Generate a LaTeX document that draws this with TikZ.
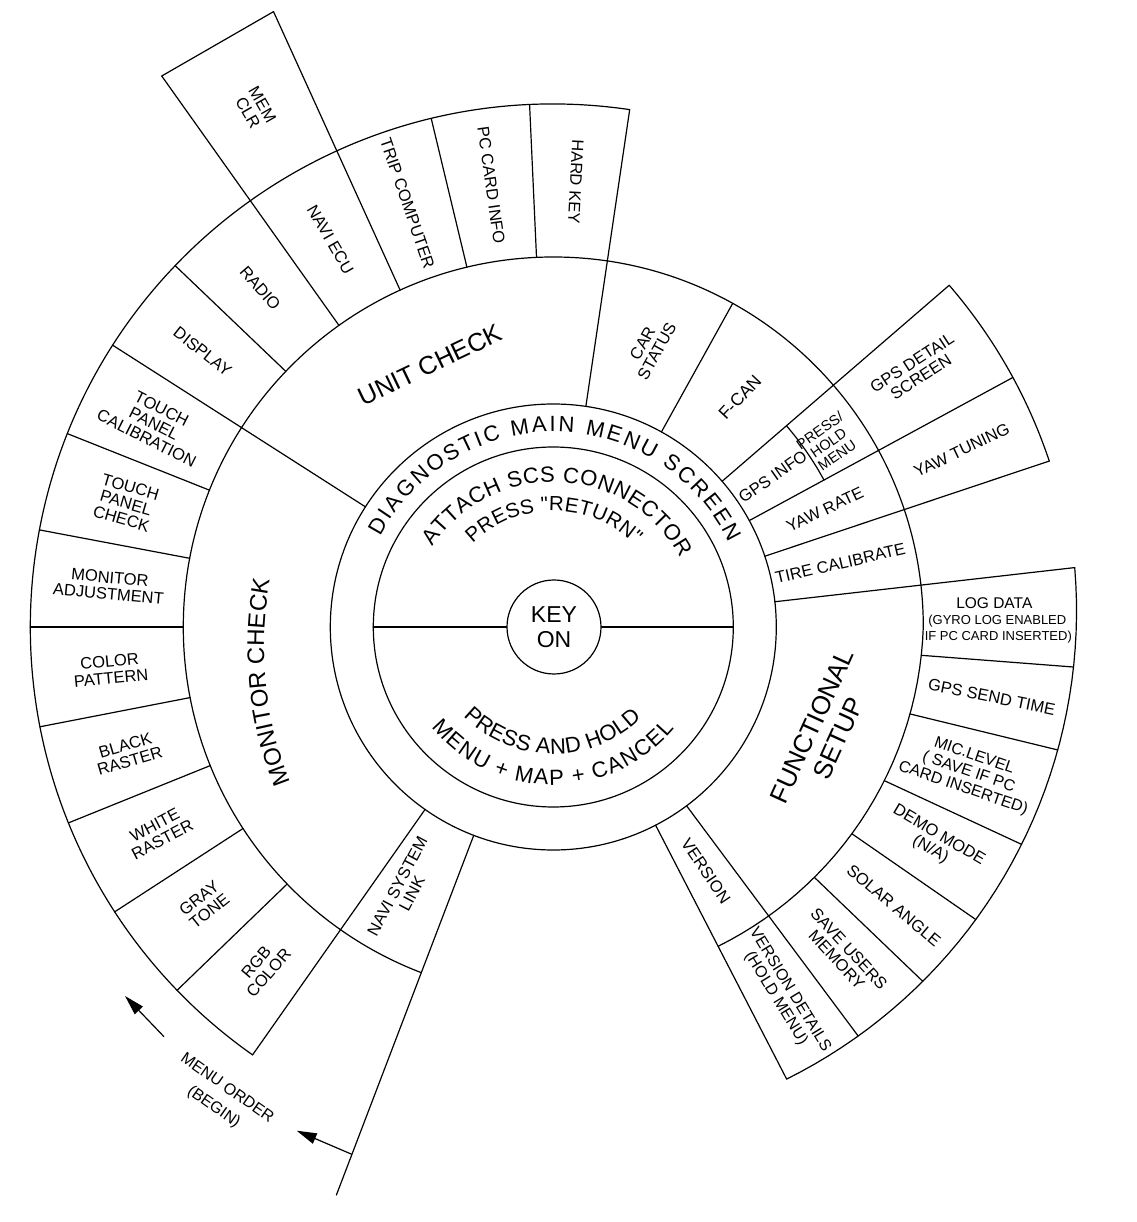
\documentclass[tikz,border=0pt]{standalone}
\usepackage{fontspec}
\setmainfont{Liberation Sans}[Ligatures=TeXOff]
\usetikzlibrary{decorations.text,arrows.meta,calc}
\newcommand{\mydiagfont}{\fontsize{22}{22}\selectfont}
\newcommand{\myretfont}{\fontsize{20.5}{20.5}\selectfont}
\newcommand{\mybigfont}{\fontsize{24}{24}\selectfont}
\begin{document}
\begin{tikzpicture}[x=1pt,y=1pt,
  ln/.style={line width=1.2pt, line cap=round, line join=round},
  lbl/.style={font=\fontsize{16.5}{16.5}\selectfont, align=center, inner sep=0pt},
  lblsm/.style={font=\fontsize{14.5}{15}\selectfont, align=center, inner sep=0pt},
  big/.style={font=\fontsize{26}{29}\selectfont, align=center, inner sep=0pt},
  arr/.style={line width=1.2pt, -{Triangle[length=20pt,width=11pt]}},
  curved/.style={decorate, decoration={text along path, text align={fit to path}, text={#1}}}
]
\useasboundingbox (-553.3,-595) rectangle (582.7,627);

% ---- centre
\node[circle, draw, line width=1.2pt, minimum size=94pt, inner sep=0pt,
      font=\fontsize{23}{25}\selectfont, align=center] (keyon) at (0.7,0) {KEY\\ON};
\draw[ln] (0,0) circle[radius=180];
\draw[ln] (0,0) circle[radius=223];
\draw[ln] (keyon.east) -- (0:180);
\draw[ln] (keyon.west) -- (180:180);

% ---- ring 4 (unit / monitor / functional)
\draw[ln] plot[domain=-62.7:0, samples=30, variable=\t] ({\t}:{370+12*sin(\t)})
          arc[start angle=0, end angle=249.1, radius=370];

% ---- outer arcs
\draw[ln] (81.6:523) arc[start angle=81.6, end angle=234.9, radius=523];
\draw[ln] (18.5:523) arc[start angle=18.5, end angle=40.8, radius=523];
\draw[ln] plot[domain=-62.7:6.5, samples=40, variable=\t] ({\t}:{523+16*sin(\t)});

% ---- radial dividers
\foreach \a in {81.6,147.4,234.9,18.5,28.5,40.8}
  \draw[ln] (\a:223) -- (\a:523);
\draw[ln] (6.5:223) -- ({6.5}:{523+16*sin(6.5)});
\foreach \a in {92.6,103.5,136.3,158.3,169.3,180,191,202,213,224}
  \draw[ln] (\a:370) -- (\a:523);
\foreach \a in {114.45,125.4}
  \draw[ln] (\a:370) -- (\a:676);
\draw[ln] (125.4:676) -- (114.45:676);
\draw[ln] (61:223) -- (61:370);
\draw[ln] (28.5:308) arc[start angle=28.5, end angle=40.8, radius=308];
\foreach \a in {-53.3,-62.7}
  \draw[ln] (\a:223) -- ({\a}:{523+16*sin(\a)});
\foreach \a in {-4.4,-13.7,-24.9,-34.7,-43.8}
  \draw[ln] ({\a}:{370+12*sin(\a)}) -- ({\a}:{523+16*sin(\a)});
\draw[ln] (-110.9:223) -- (-110.9:608);

% ---- curved texts
\path[curved={|\mydiagfont|DIAGNOSTIC MAIN MENU SCREEN}]
  (152.3:195) arc[start angle=152.3, end angle=25.6, radius=195];
\path[curved={|\mydiagfont|ATTACH SCS CONNECTOR}]
  (146.5:145) arc[start angle=146.5, end angle=28.5, radius=145];
\path[curved={|\myretfont|PRESS "RETURN"}]
  (134:116) arc[start angle=134, end angle=45.5, radius=116];
\path[curved={|\mydiagfont|PRESS AND HOLD}]
  (224.8:127) arc[start angle=224.8, end angle=314, radius=127];
\path[curved={|\mydiagfont|MENU + MAP + CANCEL}]
  (219.4:158) arc[start angle=219.4, end angle=320, radius=158];
\path[curved={|\mybigfont|MONITOR CHECK}]
  ($(71.7,-19.8)+(202:361)$) arc[start angle=202, end angle=169.3, radius=361];

% ---- big straight texts
\node[big, font=\fontsize{25.5}{29}\selectfont, rotate=25.5] (unitcheck) at (-123.3,262) {UNIT CHECK};
\node[big, rotate=65.5] (functional) at (271.7,-105) {FUNCTIONAL\\SETUP};

% ---- unit check boxes
\node[lbl, rotate=-38.15] (display) at (141.85:446) {DISPLAY};
\node[lbl, rotate=-49.15] (radio) at (130.85:448) {RADIO};
\node[lbl, rotate=-60.1] (naviecu) at (119.9:447) {NAVI ECU};
\node[lbl, rotate=-71] (trip) at (109:448) {TRIP COMPUTER};
\node[lbl, rotate=-82] (pccard) at (98:446) {PC CARD INFO};
\node[lbl, rotate=-92.9] (hardkey) at (87.1:446) {HARD KEY};
\node[lbl, rotate=-60.1] (memclr) at (119.9:598) {MEM\\CLR};

% ---- monitor check boxes
\node[lbl, rotate=-27] (tpcal) at (153:448) {TOUCH\\PANEL\\CALIBRATION};
\node[lbl, rotate=-16.2] (tpcheck) at (163.8:445) {TOUCH\\PANEL\\CHECK};
\node[lbl, rotate=-5.3] (monadj) at (174.7:446) {MONITOR\\ADJUSTMENT};
\node[lbl, rotate=5.5] (colpat) at (185.5:445) {COLOR\\PATTERN};
\node[lbl, rotate=16.5] (black) at (196.5:444) {BLACK\\RASTER};
\node[lbl, rotate=27.5] (white) at (207.5:445) {WHITE\\RASTER};
\node[lbl, rotate=38.5] (gray) at (218.5:446) {GRAY\\TONE};
\node[lbl, rotate=49.5] (rgb) at (229.5:448) {RGB\\COLOR};

% ---- right side
\node[lbl, rotate=61] (carstatus) at (71:296) {CAR\\STATUS};
\node[lbl, font=\fontsize{17.5}{17.5}\selectfont, rotate=47] (fcan) at (50.9:296) {F-CAN};
\node[lbl, rotate=35] (gpsinfo) at (34.4:266) {GPS INFO};
\node[lblsm, rotate=35] (presshold) at (33.8:331) {PRESS/\\HOLD\\MENU};
\node[lbl, rotate=33] (gpsdetail) at (35.3:445) {GPS DETAIL\\SCREEN};
\node[lbl, rotate=25.5] (yawtuning) at (23.4:445) {YAW TUNING};
\node[lbl, rotate=25.5] (yawrate) at (23.4:296) {YAW RATE};
\node[lbl, rotate=13] (tirecal) at (12.5:294) {TIRE CALIBRATE};

% ---- functional setup boxes
\node[inner sep=0pt, font=\fontsize{15.5}{16}\selectfont] (logdata) at (441,23.7) {LOG DATA};
\node[inner sep=0pt, font=\fontsize{13}{13}\selectfont] (gyro) at (444,6) {(GYRO LOG ENABLED};
\node[inner sep=0pt, font=\fontsize{13}{13}\selectfont] (ifpc) at (445,-9.7) {IF PC CARD INSERTED)};
\node[lbl, rotate=-11.5] (gpssend) at (-9.05:444) {GPS SEND TIME};
\node[lbl, font=\fontsize{16}{17}\selectfont, rotate=-19] (mic) at (-19.3:440) {MIC.LEVEL\\( SAVE IF PC\\CARD INSERTED)};
\node[lbl, rotate=-30.5] (demo) at (-29.5:438) {DEMO MODE\\(N/A)};
\node[lbl, rotate=-40] (solar) at (-39.3:440) {SOLAR ANGLE};
\node[lbl, rotate=-47.5] (saveusers) at (-48.5:437) {SAVE USERS\\MEMORY};
\node[lbl, font=\fontsize{16}{16.5}\selectfont, rotate=-58.5] (verdet) at (-58:433) {VERSION DETAILS\\(HOLD MENU)};
\node[lbl, rotate=-56] (version) at (-58:288) {VERSION};
\node[lbl, rotate=62] (navilink) at (-119.5:302) {NAVI SYSTEM\\LINK};

% ---- menu order arrows
\coordinate (beginpt) at (-110.9:564.5);
\coordinate (begintip) at (-256.6,-503.7);
\draw[arr] (beginpt) -- (begintip);
\coordinate (ordtail) at (-389.3,-409.7);
\coordinate (ordtip) at (-428.3,-369);
\draw[arr] (ordtail) -- (ordtip);
\node[lbl, font=\fontsize{16}{23}\selectfont, rotate=-35] (menuorder) at (-333.1,-471) {MENU ORDER\\(BEGIN)};
\end{tikzpicture}
\end{document}
